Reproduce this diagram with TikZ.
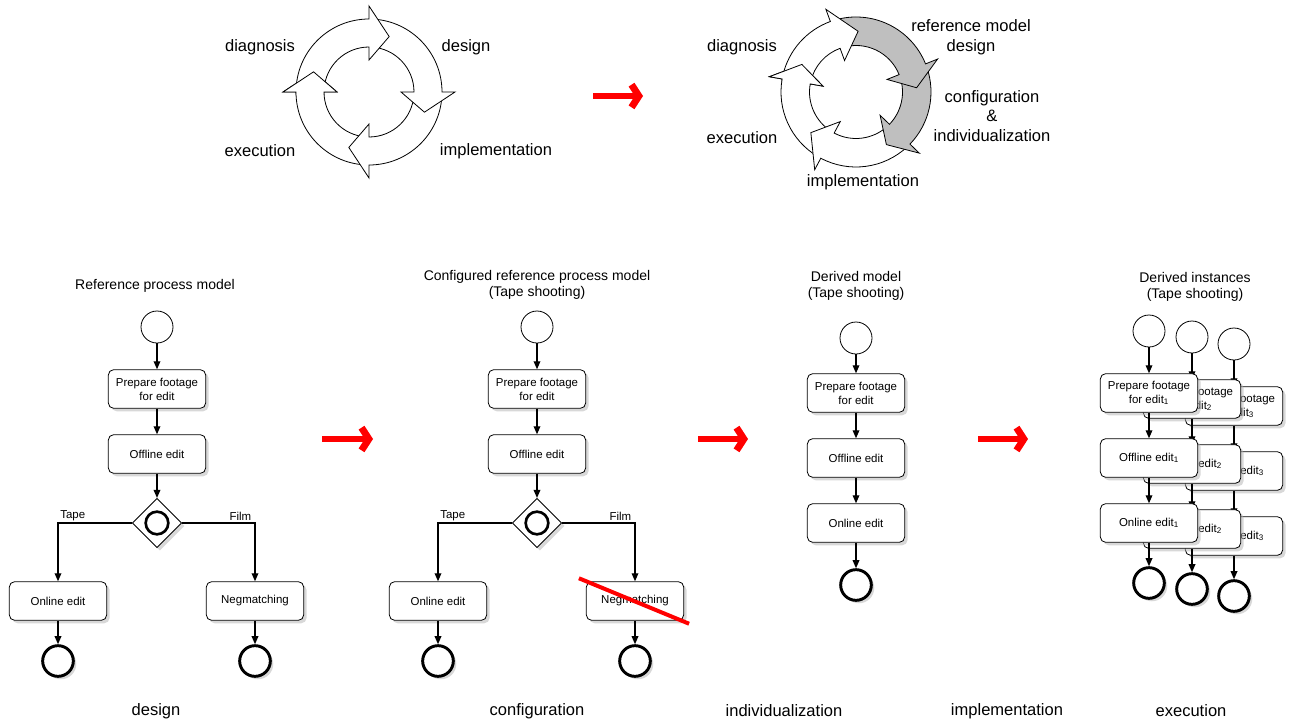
\documentclass[tikz,border=0pt]{standalone}
\usepackage{fontspec}
\setmainfont{Liberation Sans}
\usetikzlibrary{arrows.meta, shapes.geometric, shadows}

\tikzset{
  softshadow/.style={drop shadow={shadow xshift=2.2pt, shadow yshift=-2.2pt, fill=black!30}},
  task/.style={draw, line width=0.6pt, rounded corners=4pt, fill=white, minimum width=73pt, minimum height=29pt, align=center, inner sep=1pt, font=\fontsize{8.6}{10.4}\selectfont, softshadow},
  startev/.style={circle, draw, line width=0.6pt, fill=white, minimum size=24pt, inner sep=0pt},
  endev/.style={circle, draw, line width=2.2pt, fill=white, minimum size=23pt, inner sep=0pt, softshadow},
  gate/.style={diamond, draw, line width=0.6pt, fill=white, minimum size=37pt, inner sep=0pt, softshadow},
  gatemark/.style={circle, draw, line width=2pt, minimum size=17pt, inner sep=0pt},
  flow/.style={line width=0.9pt, -{Triangle[length=6pt, width=5pt]}},
  branch/.style={above, inner sep=1.5pt, font=\fontsize{8.6}{10}\selectfont},
  title/.style={align=center, font=\fontsize{10.5}{12.2}\selectfont},
  phase/.style={align=center, font=\fontsize{12.4}{14.6}\selectfont},
  redarrow/.style={red, line width=5.2pt, -{Straight Barb[length=5.5pt, width=17pt, line width=5.2pt]}},
  strike/.style={red, line width=3pt}
}

% one block arrow of a cycle: tail angle, head angle, tip offset, fill
\newcommand{\cyclearrow}[4]{%
  \draw[fill=#4, line width=0.6pt, line join=miter]
    (#1:\ringout) arc[start angle=#1, end angle=#2, radius=\ringout]
    -- (#2:{\ringout+13}) -- ({#2-#3}:{(\ringin+\ringout)/2})
    -- (#2:{\ringin-13}) -- (#2:\ringin)
    arc[start angle=#2, end angle=#1, radius=\ringin] -- cycle;}

\begin{document}
\begin{tikzpicture}[x=0.75pt, y=-0.75pt]
  \useasboundingbox (0,0) rectangle (1296,721);

  % Classic cycle
  \begin{scope}[shift={(369,92)}, yscale=-1]
    \def\ringin{45}\def\ringout{73}
    \cyclearrow{-93}{-180}{20}{white}
    \cyclearrow{-3}{-90}{20}{white}
    \cyclearrow{87}{0}{20}{white}
    \cyclearrow{177}{90}{20}{white}
    \begin{scope}
      \clip (0,0) -- (-178:100) -- (-215:100) -- cycle;
      \cyclearrow{-93}{-180}{20}{white}
    \end{scope}
  \end{scope}
  \node[phase] (diag1) at (260,47) {diagnosis};
  \node[phase] (des1) at (466,47) {design};
  \node[phase] (exe1) at (260,151) {execution};
  \node[phase] (imp1) at (496,151) {implementation};

  % Cycle with reference model
  \begin{scope}[shift={(856,92)}, yscale=-1]
    \def\ringin{46.5}\def\ringout{75}
    \cyclearrow{-121}{-190}{17}{white}
    \cyclearrow{-47}{-118}{20}{white}
    \cyclearrow{19}{-44}{16}{gray!50}
    \cyclearrow{107}{22}{18}{gray!50}
    \cyclearrow{167}{110}{22}{white}
    \begin{scope}
      \clip (0,0) -- (-188:100) -- (-215:100) -- cycle;
      \cyclearrow{-121}{-190}{17}{white}
    \end{scope}
  \end{scope}
  \node[phase] (diag2) at (742,47) {diagnosis};
  \node[phase] (rmd) at (971,37) {reference model\\design};
  \node[phase] (cfg) at (992,116) {configuration\\\&\\individualization};
  \node[phase] (exe2) at (742,138) {execution};
  \node[phase] (imp2) at (863,182) {implementation};

  % Red arrows
  \coordinate (ra1) at (593,96);  \coordinate (rb1) at (643,96);
  \coordinate (ra2) at (322,439); \coordinate (rb2) at (373,439);
  \coordinate (ra3) at (698,439); \coordinate (rb3) at (748,439);
  \coordinate (ra4) at (978,439); \coordinate (rb4) at (1028,439);
  \draw[redarrow] (ra1) -- (rb1);
  \draw[redarrow] (ra2) -- (rb2);
  \draw[redarrow] (ra3) -- (rb3);
  \draw[redarrow] (ra4) -- (rb4);

  % Reference process model
  \node[title] (title1) at (155,286) {Reference process model};
  \node[startev] (s1) at (157,327) {};
  \node[task] (p1) at (157,389) {Prepare footage\\for edit};
  \node[task] (o1) at (157,454) {Offline edit};
  \node[gate] (g1) at (157,523) {};
  \node[gatemark] (gm1) at (g1) {};
  \node[task] (n1) at (58,601) {Online edit};
  \node[task] (m1) at (255,601) {Negmatching};
  \node[endev] (e1a) at (58,661) {};
  \node[endev] (e1b) at (255,661) {};
  \draw[flow] (s1) -- (p1);
  \draw[flow] (p1) -- (o1);
  \draw[flow] (o1) -- (g1);
  \draw[flow] (g1.west) -| node[branch, pos=0.4] {Tape} (n1);
  \draw[flow] (g1.east) -| node[branch, pos=0.4] {Film} (m1);
  \draw[flow] (n1) -- (e1a);
  \draw[flow] (m1) -- (e1b);

  % Configured reference process model
  \node[title] (title2) at (537,285) {Configured reference process model\\(Tape shooting)};
  \node[startev] (s2) at (537,327) {};
  \node[task] (p2) at (537,389) {Prepare footage\\for edit};
  \node[task] (o2) at (537,454) {Offline edit};
  \node[gate] (g2) at (537,523) {};
  \node[gatemark] (gm2) at (g2) {};
  \node[task] (n2) at (438,601) {Online edit};
  \node[task] (m2) at (635,601) {Negmatching};
  \node[endev] (e2a) at (438,661) {};
  \node[endev] (e2b) at (635,661) {};
  \draw[flow] (s2) -- (p2);
  \draw[flow] (p2) -- (o2);
  \draw[flow] (o2) -- (g2);
  \draw[flow] (g2.west) -| node[branch, pos=0.4] {Tape} (n2);
  \draw[flow] (g2.east) -| node[branch, pos=0.4] {Film} (m2);
  \draw[flow] (n2) -- (e2a);
  \draw[flow] (m2) -- (e2b);
  \draw[strike] ([shift={(-7,-3)}]m2.north west) -- ([shift={(5,3)}]m2.south east);

  % Derived model
  \node[title] (title3) at (856,286) {Derived model\\(Tape shooting)};
  \node[startev] (s3) at (856,338) {};
  \node[task] (p3) at (856,393) {Prepare footage\\for edit};
  \node[task] (o3) at (856,458) {Offline edit};
  \node[task] (n3) at (856,523) {Online edit};
  \node[endev] (e3) at (856,585) {};
  \draw[flow] (s3) -- (p3);
  \draw[flow] (p3) -- (o3);
  \draw[flow] (o3) -- (n3);
  \draw[flow] (n3) -- (e3);

  % Derived instances
  \node[title] (title4) at (1195,287) {Derived instances\\(Tape shooting)};
  % instance 3
  \node[startev] (s43) at (1234,344) {};
  \node[task] (p43) at (1234,406) {Prepare footage\\for edit\textsubscript{3}};
  \node[task] (o43) at (1234,471) {Offline edit\textsubscript{3}};
  \node[task] (n43) at (1234,536) {Online edit\textsubscript{3}};
  \node[endev] (e43) at (1234,596) {};
  \draw[flow] (s43) -- (p43);
  \draw[flow] (p43) -- (o43);
  \draw[flow] (o43) -- (n43);
  \draw[flow] (n43) -- (e43);
  % instance 2
  \node[startev] (s42) at (1192,337) {};
  \node[task] (p42) at (1192,399) {Prepare footage\\for edit\textsubscript{2}};
  \node[task] (o42) at (1192,464) {Offline edit\textsubscript{2}};
  \node[task] (n42) at (1192,529) {Online edit\textsubscript{2}};
  \node[endev] (e42) at (1192,589) {};
  \draw[flow] (s42) -- (p42);
  \draw[flow] (p42) -- (o42);
  \draw[flow] (o42) -- (n42);
  \draw[flow] (n42) -- (e42);
  % instance 1
  \node[startev] (s41) at (1149,331) {};
  \node[task] (p41) at (1149,393) {Prepare footage\\for edit\textsubscript{1}};
  \node[task] (o41) at (1149,458) {Offline edit\textsubscript{1}};
  \node[task] (n41) at (1149,523) {Online edit\textsubscript{1}};
  \node[endev] (e41) at (1149,583) {};
  \draw[flow] (s41) -- (p41);
  \draw[flow] (p41) -- (o41);
  \draw[flow] (o41) -- (n41);
  \draw[flow] (n41) -- (e41);

  % Phases
  \node[phase] (ph1) at (156,711) {design};
  \node[phase] (ph2) at (537,711) {configuration};
  \node[phase] (ph3) at (784,711) {individualization};
  \node[phase] (ph4) at (1007,711) {implementation};
  \node[phase] (ph5) at (1191,711) {execution};
\end{tikzpicture}
\end{document}
